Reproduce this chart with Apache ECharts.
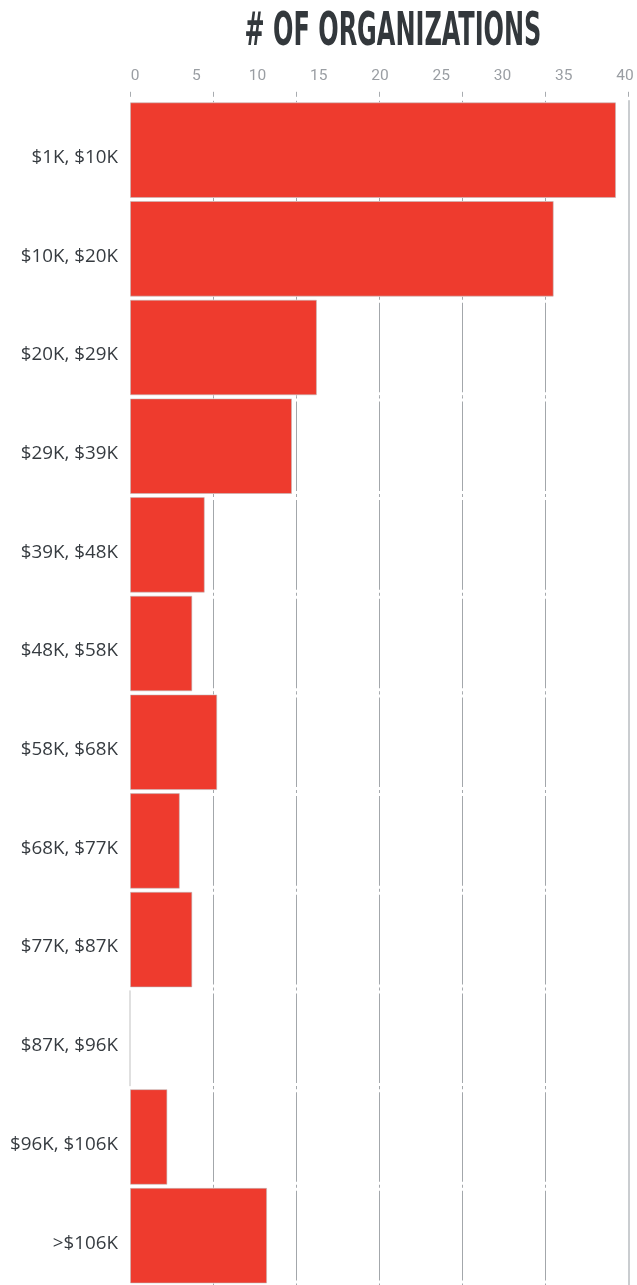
<!DOCTYPE html>
<html>
<head>
<meta charset="utf-8">
<style>
  html, body { margin: 0; padding: 0; background: #fff; }
  #chart { width: 637px; height: 1285px; }
</style>
<script src="https://cdn.jsdelivr.net/npm/echarts@6/dist/echarts.min.js"></script>
</head>
<body>
<div id="chart"></div>
<script>
// Revenue brackets and number of organizations in each
const categories = [
  '$1K, $10K', '$10K, $20K', '$20K, $29K', '$29K, $39K',
  '$39K, $48K', '$48K, $58K', '$58K, $68K', '$68K, $77K',
  '$77K, $87K', '$87K, $96K', '$96K, $106K', '>$106K'
];
const organizations = [39, 34, 15, 13, 6, 5, 7, 4, 5, 0, 3, 11];

// Value axis settings
const axisMin = 0;
const axisMax = 40;
const labelStep = 5;
const gridStep = 40 / 6;

const titleText = '# OF ORGANIZATIONS';

const chart = echarts.init(document.getElementById('chart'), null, { renderer: 'canvas' });

const gridColor = '#a3a7ab';

chart.setOption({
  animation: false,
  backgroundColor: '#ffffff',
  graphic: [{
    type: 'text',
    x: 393,
    y: 33,
    scaleX: 0.58,
    style: {
      text: titleText,
      fill: '#33383c',
      font: 'bold 46px "DejaVu Sans Condensed", "Liberation Sans Narrow", sans-serif',
      align: 'center',
      verticalAlign: 'middle'
    }
  }],
  grid: [
    { left: 130, right: 8.5, top: 100.8, bottom: -4.3 },
    { left: 135, right: 12, top: 100.8, bottom: -4.3 }
  ],
  xAxis: [
    {
      // gridlines and top tick marks
      type: 'value',
      gridIndex: 0,
      position: 'top',
      offset: 4,
      min: axisMin,
      max: axisMax,
      interval: gridStep,
      axisLine: { show: false },
      axisLabel: { show: false },
      axisTick: { show: true, length: 5, lineStyle: { color: '#a8acb0', width: 1 } },
      splitLine: {
        show: true,
        lineStyle: {
          color: ['rgba(0,0,0,0)', gridColor, gridColor, gridColor, gridColor, gridColor, 'rgba(0,0,0,0)'],
          width: 1
        }
      }
    },
    {
      // numeric labels along the top
      type: 'value',
      gridIndex: 1,
      position: 'top',
      min: axisMin,
      max: axisMax,
      interval: labelStep,
      axisLine: { show: false },
      axisTick: { show: false },
      splitLine: { show: false },
      axisLabel: {
        show: true,
        margin: 17,
        color: '#9a9ea3',
        fontFamily: 'Roboto, sans-serif',
        fontWeight: 400,
        fontSize: 15.5
      }
    }
  ],
  yAxis: [
    {
      type: 'category',
      gridIndex: 0,
      data: categories,
      inverse: true,
      axisLine: { show: false },
      axisTick: { show: false },
      splitLine: { show: false },
      axisLabel: {
        margin: 12,
        color: '#363b40',
        fontFamily: '"Open Sans", sans-serif',
        fontSize: 18.8,
        verticalAlign: 'top',
        lineHeight: 15
      }
    },
    {
      // right border line at the axis maximum
      type: 'category',
      gridIndex: 0,
      position: 'right',
      data: categories,
      inverse: true,
      z: 5,
      axisLine: { show: true, lineStyle: { color: '#b8bcc0', width: 1.5 } },
      axisTick: { show: false },
      axisLabel: { show: false },
      splitLine: { show: false }
    },
    {
      type: 'category',
      gridIndex: 1,
      data: categories,
      inverse: true,
      show: false
    }
  ],
  series: [
    {
      // full-width track whose white outline breaks the gridlines between rows
      type: 'bar',
      xAxisIndex: 0,
      yAxisIndex: 0,
      data: categories.map(() => axisMax),
      barCategoryGap: '3.1%',
      silent: true,
      itemStyle: { color: 'rgba(0,0,0,0)', borderColor: '#ffffff', borderWidth: 3 }
    },
    {
      type: 'bar',
      xAxisIndex: 0,
      yAxisIndex: 0,
      data: organizations,
      barGap: '-100%',
      barCategoryGap: '3.1%',
      itemStyle: {
        color: '#ee3b2e',
        borderColor: 'rgba(190,190,190,0.55)',
        borderWidth: 1
      }
    }
  ]
});
</script>
</body>
</html>
